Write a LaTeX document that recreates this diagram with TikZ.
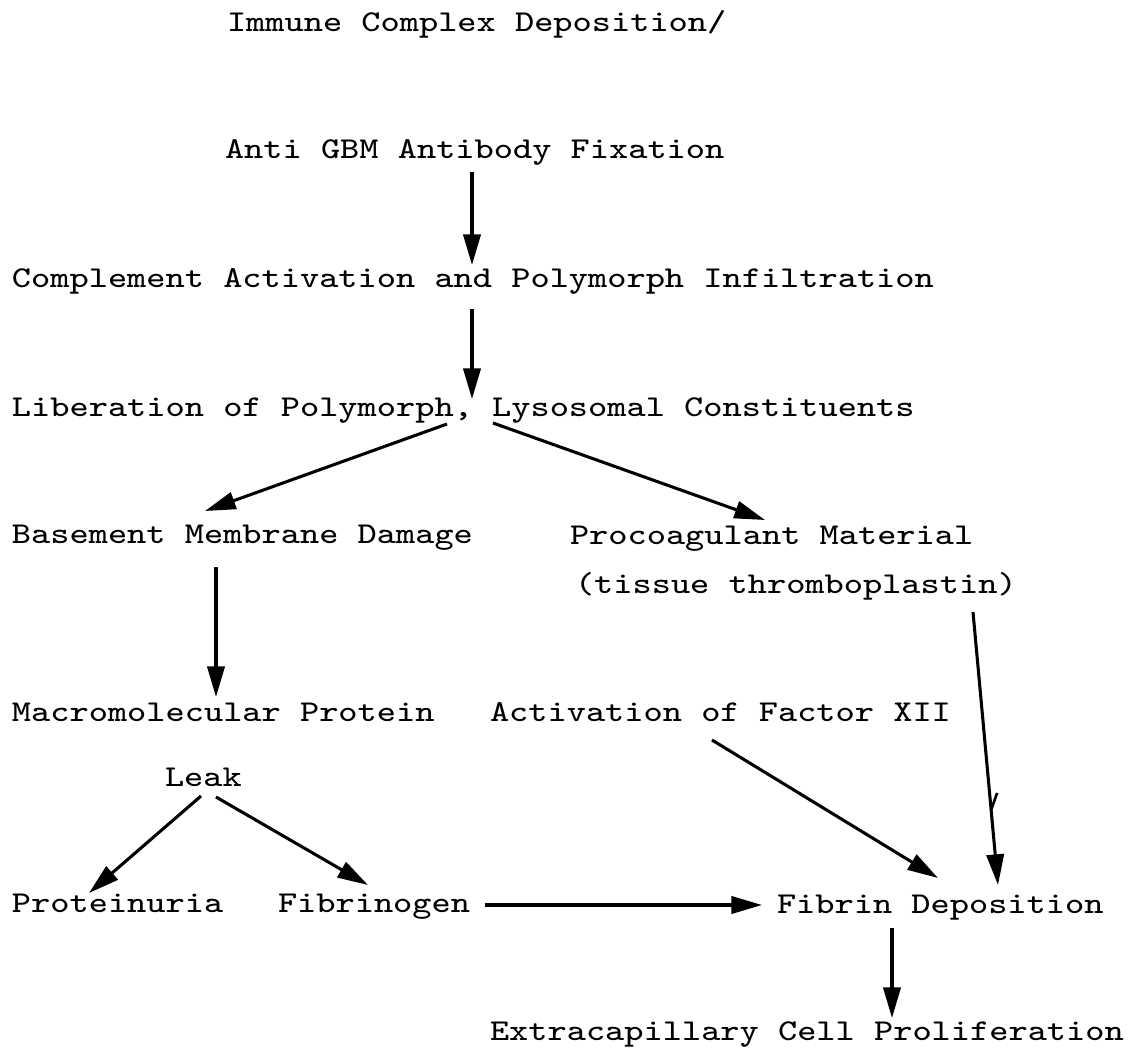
\documentclass[tikz,border=0pt]{standalone}
\usepackage{graphicx}
\usepackage{fontspec}
\usetikzlibrary{arrows.meta}

% small-design-size typewriter face for the labels
\newfontfamily\typed{lmmono8-regular.otf}
% typewriter labels, widened to the pitch of the typed original
\newcommand{\tw}[1]{\scalebox{1.195}[1]{#1}}

\tikzset{
  lbl/.style={anchor=base west, inner sep=0pt, outer sep=0pt,
              font=\typed\fontsize{22.7}{26}\selectfont},
  arr/.style={line width=2.3pt, -{Triangle[length=23pt,width=13pt]}},
  stroke/.style={line width=2pt}
}

\begin{document}
\begin{tikzpicture}[x=0.75pt, y=-0.75pt]
  \useasboundingbox[fill=white] (0,0) rectangle (1133,1050);

  % labels
  \node[lbl] (imm)   at (227,31)   {\tw{Immune Complex Deposition/}};
  \node[lbl] (anti)  at (225,158)  {\tw{Anti GBM Antibody Fixation}};
  \node[lbl] (compl) at (12,287)   {\tw{Complement Activation and Polymorph Infiltration}};
  \node[lbl] (lib)   at (12,416)   {\tw{Liberation of Polymorph, Lysosomal Constituents}};
  \node[lbl] (bmd)   at (12,543)   {\tw{Basement Membrane Damage}};
  \node[lbl] (proc)  at (570,544)  {\tw{Procoagulant Material}};
  \node[lbl] (tiss)  at (575,593)  {\tw{(tissue thromboplastin)}};
  \node[lbl] (macro) at (12,721)   {\tw{Macromolecular Protein}};
  \node[lbl] (act)   at (490,721)  {\tw{Activation of Factor XII}};
  \node[lbl] (leak)  at (165,786)  {\tw{Leak}};
  \node[lbl] (prot)  at (12,912)   {\tw{Proteinuria}};
  \node[lbl] (fibg)  at (278,912)  {\tw{Fibrinogen}};
  \node[lbl] (fibd)  at (777,913)  {\tw{Fibrin Deposition}};
  \node[lbl] (extra) at (490,1040) {\tw{Extracapillary Cell Proliferation}};

  % connectors
  \draw[arr] ([shift={(247,14)}]anti.base west)  -- ([shift={(460,-22)}]compl.base west);
  \draw[arr] ([shift={(460,22)}]compl.base west) -- ([shift={(460,-17)}]lib.base west);
  \draw[arr] ([shift={(435,8)}]lib.base west)    -- ([shift={(193,-32)}]bmd.base west);
  \draw[arr] ([shift={(481,7)}]lib.base west)    -- ([shift={(195,-24)}]proc.base west);
  \draw[arr] ([shift={(204,24)}]bmd.base west)   -- ([shift={(204,-24)}]macro.base west);
  \draw[arr] ([shift={(36,10)}]leak.base west)   -- ([shift={(77,-19)}]prot.base west);
  \draw[arr] ([shift={(51,11)}]leak.base west)   -- ([shift={(90,-27)}]fibg.base west);
  \draw[arr] ([shift={(207,-7)}]fibg.base west)  -- ([shift={(-15,-8)}]fibd.base west);
  \draw[arr] ([shift={(222,19)}]act.base west)   -- ([shift={(161,-35)}]fibd.base west);
  \draw[arr] ([shift={(398,19)}]tiss.base west)  -- coordinate[pos=0.725] (kink)
             ([shift={(221,-28)}]fibd.base west);
  \draw[stroke] (kink) -- ++(6,-17);
  \draw[arr] ([shift={(115,15)}]fibd.base west)  -- ([shift={(402,-22)}]extra.base west);
\end{tikzpicture}
\end{document}
